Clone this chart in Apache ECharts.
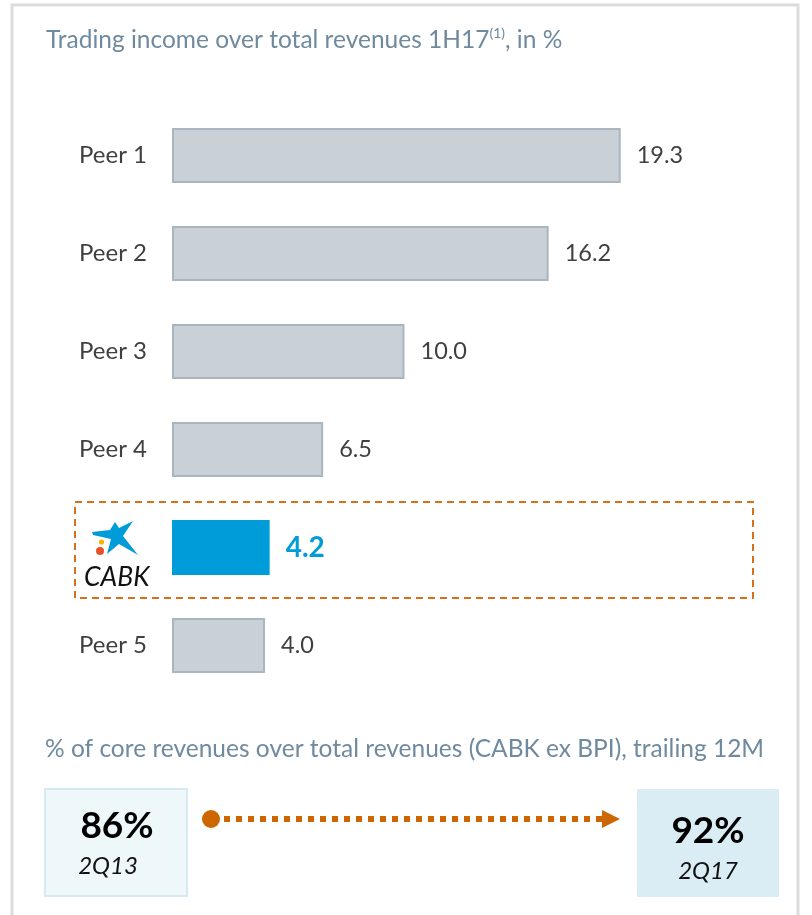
<!DOCTYPE html>
<html>
<head>
<meta charset="utf-8">
<script src="https://cdn.jsdelivr.net/npm/echarts@6/dist/echarts.min.js"></script>
<style>
  html, body { margin: 0; padding: 0; background: #ffffff; }
  #chart { width: 812px; height: 915px; }
</style>
</head>
<body>
<div id="chart"></div>
<script>
// Trading income share of total revenues, 1H17 (%)
var categories = ['Peer 1', 'Peer 2', 'Peer 3', 'Peer 4', 'CABK', 'Peer 5'];
var tradingShare = [19.3, 16.2, 10.0, 6.5, 4.2, 4.0];
var highlightName = 'CABK';

// Core revenues over total revenues (CABK ex BPI), trailing 12M
var corePeriods = ['2Q13', '2Q17'];
var coreShare = [86, 92];

var FONT = 'Lato, "Open Sans", sans-serif';
var TITLE_COLOR = '#6F8A9E';
var TEXT_COLOR = '#404040';
var GREY_FILL = '#C9D1D7';
var GREY_EDGE = '#A9B6BF';
var BRAND_BLUE = '#009CDA';
var ORANGE = '#CC6600';

var chart = echarts.init(document.getElementById('chart'), null, { renderer: 'canvas' });

var barData = tradingShare.map(function (v, i) {
  var isHi = categories[i] === highlightName;
  return {
    value: v,
    itemStyle: isHi
      ? { color: BRAND_BLUE, borderColor: BRAND_BLUE, borderWidth: 0 }
      : { color: GREY_FILL, borderColor: GREY_EDGE, borderWidth: 2 },
    label: isHi
      ? { color: BRAND_BLUE, fontWeight: 'bold', fontSize: 28 }
      : {}
  };
});

var graphics = [
  // outer panel frame
  { type: 'rect', shape: { x: 12, y: 5, width: 786, height: 930 },
    style: { fill: 'none', stroke: '#DCDCDC', lineWidth: 3 }, silent: true, z: 0 },
  // heading for the bar chart
  { type: 'text', left: 46, top: 25,
    style: { text: '{t|Trading income over total revenues 1H17}{s|(1)}{t|, in %}',
      rich: {
        t: { fontFamily: FONT, fontSize: 24.5, fill: TITLE_COLOR, verticalAlign: 'bottom', lineHeight: 28 },
        s: { fontFamily: FONT, fontSize: 14, fill: TITLE_COLOR, verticalAlign: 'top', lineHeight: 15, padding: [1, 0, 0, 0] }
      } } },
  // highlight frame around CABK row
  { type: 'rect', shape: { x: 75, y: 502, width: 678, height: 96 },
    style: { fill: 'none', stroke: '#D4711A', lineWidth: 2, lineDash: [7, 5] }, z: 1 },
  // CaixaBank star
  { type: 'polygon', shape: { points: [
      [92, 532], [110, 530], [115, 522], [119, 528], [133, 521],
      [123, 536], [138, 555], [119, 544], [107, 554], [111, 539], [93, 535]
    ] }, style: { fill: BRAND_BLUE }, z: 3 },
  { type: 'circle', shape: { cx: 101.5, cy: 542, r: 2.6 }, style: { fill: '#F7B500' }, z: 3 },
  { type: 'circle', shape: { cx: 100, cy: 551, r: 4 }, style: { fill: '#E8502A' }, z: 3 },
  { type: 'text', left: 84, top: 564,
    style: { text: 'CABK', fontFamily: FONT, fontSize: 26.5, fontStyle: 'italic', fill: '#111111' }, z: 3 },
  // heading for the core revenues block
  { type: 'text', left: 45, top: 737,
    style: { text: '% of core revenues over total revenues (CABK ex BPI), trailing 12M',
      fontFamily: FONT, fontSize: 24.5, fill: TITLE_COLOR } },
  // KPI boxes
  { type: 'rect', shape: { x: 45, y: 789, width: 142, height: 107 },
    style: { fill: '#EEF7FA', stroke: '#D7EAF2', lineWidth: 2 } },
  { type: 'rect', shape: { x: 637, y: 789, width: 142, height: 108 },
    style: { fill: '#DAEDF4' } },
  { type: 'text', x: 117, y: 826,
    style: { text: coreShare[0] + '%', fontFamily: FONT, fontSize: 37, fontWeight: 'bold', fill: '#000000', align: 'center', verticalAlign: 'middle' } },
  { type: 'text', x: 108, y: 866,
    style: { text: corePeriods[0], fontFamily: FONT, fontSize: 24, fontStyle: 'italic', fill: '#111111', align: 'center', verticalAlign: 'middle' } },
  { type: 'text', x: 708, y: 831,
    style: { text: coreShare[1] + '%', fontFamily: FONT, fontSize: 37, fontWeight: 'bold', fill: '#000000', align: 'center', verticalAlign: 'middle' } },
  { type: 'text', x: 708, y: 871,
    style: { text: corePeriods[1], fontFamily: FONT, fontSize: 24, fontStyle: 'italic', fill: '#111111', align: 'center', verticalAlign: 'middle' } },
  // progression arrow
  { type: 'line', shape: { x1: 224, y1: 819, x2: 603, y2: 819 },
    style: { stroke: ORANGE, lineWidth: 6, lineDash: [6, 6], lineCap: 'butt' } },
  { type: 'circle', shape: { cx: 211, cy: 819, r: 9 }, style: { fill: ORANGE } },
  { type: 'polygon', shape: { points: [[602, 810], [620, 819], [602, 828]] }, style: { fill: ORANGE } }
];

chart.setOption({
  animation: false,
  backgroundColor: '#ffffff',
  grid: { left: 172, top: 106.5, width: 465, height: 588, containLabel: false },
  xAxis: {
    type: 'value', min: 0, max: 20, show: false
  },
  yAxis: {
    type: 'category',
    data: categories,
    inverse: true,
    axisLine: { show: false },
    axisTick: { show: false },
    axisLabel: {
      margin: 25,
      fontFamily: FONT, fontSize: 24, color: TEXT_COLOR,
      formatter: function (v) { return v === highlightName ? '' : v; }
    }
  },
  series: [{
    type: 'bar',
    data: barData,
    barWidth: 55,
    label: {
      show: true, position: 'right', distance: 16,
      fontFamily: FONT, fontSize: 23.5, color: TEXT_COLOR,
      formatter: function (p) { return p.value.toFixed(1); }
    }
  }],
  graphic: graphics
});
</script>
</body>
</html>
